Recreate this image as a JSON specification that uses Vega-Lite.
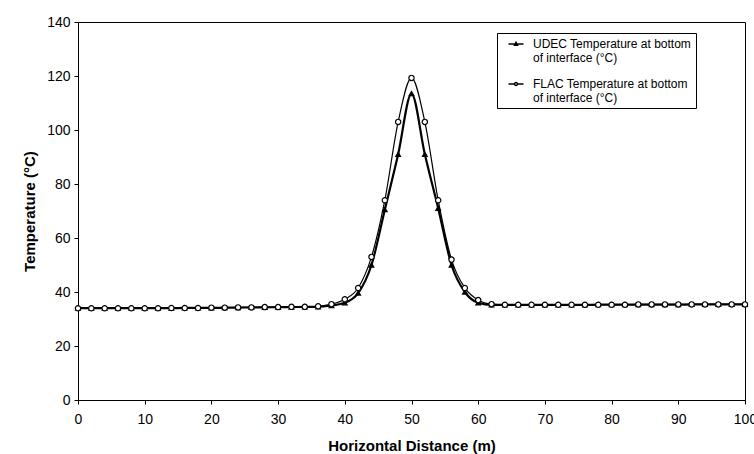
{
  "$schema": "https://vega.github.io/schema/vega-lite/v6.json",
  "width": 667,
  "height": 378,
  "autosize": {"type": "none"},
  "padding": {"left": 78, "top": 22, "right": 9, "bottom": 54},
  "background": "white",
  "config": {
    "font": "Liberation Sans",
    "view": {"stroke": "black", "strokeWidth": 1},
    "axis": {"grid": false, "domainColor": "black", "tickColor": "black", "labelColor": "black", "titleColor": "black", "labelFont": "Liberation Sans", "titleFont": "Liberation Sans", "titleFontSize": 15, "titleFontWeight": "bold"}
  },
  "data": {
    "values": [
      {"x": 0, "UDEC": 34.0, "FLAC": 34.0},
      {"x": 2, "UDEC": 34.0, "FLAC": 34.0},
      {"x": 4, "UDEC": 34.0, "FLAC": 34.0},
      {"x": 6, "UDEC": 34.0, "FLAC": 34.0},
      {"x": 8, "UDEC": 34.0, "FLAC": 34.0},
      {"x": 10, "UDEC": 34.0, "FLAC": 34.0},
      {"x": 12, "UDEC": 34.0, "FLAC": 34.0},
      {"x": 14, "UDEC": 34.0, "FLAC": 34.1},
      {"x": 16, "UDEC": 34.1, "FLAC": 34.1},
      {"x": 18, "UDEC": 34.1, "FLAC": 34.1},
      {"x": 20, "UDEC": 34.1, "FLAC": 34.2},
      {"x": 22, "UDEC": 34.2, "FLAC": 34.2},
      {"x": 24, "UDEC": 34.2, "FLAC": 34.3},
      {"x": 26, "UDEC": 34.3, "FLAC": 34.3},
      {"x": 28, "UDEC": 34.3, "FLAC": 34.4},
      {"x": 30, "UDEC": 34.4, "FLAC": 34.4},
      {"x": 32, "UDEC": 34.4, "FLAC": 34.5},
      {"x": 34, "UDEC": 34.5, "FLAC": 34.5},
      {"x": 36, "UDEC": 34.5, "FLAC": 34.7},
      {"x": 38, "UDEC": 35.0, "FLAC": 35.5},
      {"x": 40, "UDEC": 36.0, "FLAC": 37.3},
      {"x": 42, "UDEC": 39.6, "FLAC": 41.5},
      {"x": 44, "UDEC": 50.0, "FLAC": 53.0},
      {"x": 46, "UDEC": 70.5, "FLAC": 74.0},
      {"x": 48, "UDEC": 91.0, "FLAC": 103.0},
      {"x": 50, "UDEC": 113.5, "FLAC": 119.3},
      {"x": 52, "UDEC": 91.0, "FLAC": 103.0},
      {"x": 54, "UDEC": 71.0, "FLAC": 74.0},
      {"x": 56, "UDEC": 50.0, "FLAC": 52.0},
      {"x": 58, "UDEC": 40.0, "FLAC": 41.5},
      {"x": 60, "UDEC": 36.0, "FLAC": 37.0},
      {"x": 62, "UDEC": 35.2, "FLAC": 35.5},
      {"x": 64, "UDEC": 35.2, "FLAC": 35.3},
      {"x": 66, "UDEC": 35.2, "FLAC": 35.3},
      {"x": 68, "UDEC": 35.2, "FLAC": 35.3},
      {"x": 70, "UDEC": 35.2, "FLAC": 35.3},
      {"x": 72, "UDEC": 35.2, "FLAC": 35.3},
      {"x": 74, "UDEC": 35.2, "FLAC": 35.3},
      {"x": 76, "UDEC": 35.2, "FLAC": 35.3},
      {"x": 78, "UDEC": 35.3, "FLAC": 35.3},
      {"x": 80, "UDEC": 35.3, "FLAC": 35.3},
      {"x": 82, "UDEC": 35.3, "FLAC": 35.3},
      {"x": 84, "UDEC": 35.3, "FLAC": 35.4},
      {"x": 86, "UDEC": 35.3, "FLAC": 35.4},
      {"x": 88, "UDEC": 35.3, "FLAC": 35.4},
      {"x": 90, "UDEC": 35.3, "FLAC": 35.4},
      {"x": 92, "UDEC": 35.4, "FLAC": 35.4},
      {"x": 94, "UDEC": 35.4, "FLAC": 35.4},
      {"x": 96, "UDEC": 35.4, "FLAC": 35.4},
      {"x": 98, "UDEC": 35.4, "FLAC": 35.4},
      {"x": 100, "UDEC": 35.4, "FLAC": 35.4}
    ]
  },
  "transform": [
    {"fold": ["UDEC", "FLAC"], "as": ["series", "temp"]}
  ],
  "encoding": {
    "x": {
      "field": "x", "type": "quantitative",
      "scale": {"domain": [0, 100], "nice": false},
      "axis": {"values": [0, 10, 20, 30, 40, 50, 60, 70, 80, 90, 100], "title": "Horizontal Distance (m)", "tickSize": 4, "labelFontSize": 14, "labelPadding": 8, "titlePadding": 12, "labelFlush": false}
    },
    "y": {
      "field": "temp", "type": "quantitative",
      "scale": {"domain": [0, 140], "nice": false},
      "axis": {"values": [0, 20, 40, 60, 80, 100, 120, 140], "title": "Temperature (°C)", "tickSize": 4, "labelFontSize": 14, "labelPadding": 4, "titlePadding": 9}
    }
  },
  "layer": [
    {
      "mark": {"type": "line", "interpolate": "monotone", "color": "black"},
      "encoding": {
        "detail": {"field": "series"},
        "strokeWidth": {"condition": {"test": "datum.series == 'UDEC'", "value": 2.2}, "value": 1.2}
      }
    },
    {
      "mark": {"type": "point", "opacity": 1, "stroke": "black", "strokeWidth": 1.2},
      "encoding": {
        "shape": {"condition": {"test": "datum.series == 'UDEC'", "value": "triangle-up"}, "value": "circle"},
        "size": {"condition": {"test": "datum.series == 'UDEC'", "value": 22}, "value": 28},
        "fill": {"condition": {"test": "datum.series == 'UDEC'", "value": "black"}, "value": "white"}
      }
    },
    {
      "transform": [{"filter": "false"}],
      "mark": {"type": "point", "opacity": 1, "stroke": "black", "strokeWidth": 1.2},
      "encoding": {
        "shape": {
          "field": "series", "type": "nominal",
          "scale": {"domain": ["UDEC", "FLAC"], "range": ["M-1.25,0H1.25M0,-0.27L0.25,0.2L-0.25,0.2Z", "M-1.25,0H-0.25A0.25,0.25 0 1,1 0.25,0A0.25,0.25 0 1,1 -0.25,0M0.25,0H1.25"]},
          "legend": {
            "title": null,
            "orient": "none",
            "legendX": 419,
            "legendY": 11,
            "strokeColor": "black",
            "fillColor": "white",
            "padding": 4,
            "rowPadding": 13,
            "labelFontSize": 12,
            "labelLimit": 300,
            "labelColor": "black",
            "symbolSize": 144,
            "symbolOffset": 8,
            "labelOffset": 10,
            "labelExpr": "datum.value == 'UDEC' ? ['UDEC Temperature at bottom', 'of interface (°C)'] : ['FLAC Temperature at bottom', 'of interface (°C)']"
          }
        },
        "fill": {
          "field": "series", "type": "nominal",
          "scale": {"domain": ["UDEC", "FLAC"], "range": ["black", "white"]}
        }
      }
    }
  ]
}
